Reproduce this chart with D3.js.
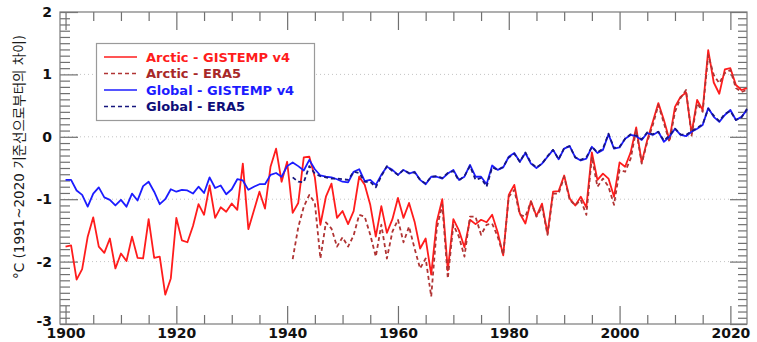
<!DOCTYPE html>
<html>
<head>
<meta charset="utf-8">
<script src="https://cdn.jsdelivr.net/npm/d3@7"></script>
<style>
  body { margin: 0; background: #fff; }
  svg { display: block; }
  .tick text { font-family: "DejaVu Sans", sans-serif; font-weight: bold; font-size: 14px; fill: #111; }
  .legend text { font-family: "DejaVu Sans", sans-serif; font-weight: bold; font-size: 13px; }
</style>
</head>
<body>
<div id="chart"></div>
<script>
// GISTEMP series start in 1900, ERA5 series start in 1941
const gisStart = 1900;
const eraStart = 1941;

const arcticGistemp = [
  -1.76, -1.74, -2.29, -2.12, -1.60, -1.29, -1.76, -1.86, -1.63, -2.11,
  -1.87, -1.99, -1.60, -1.94, -1.95, -1.32, -1.94, -1.92, -2.53, -2.27,
  -1.30, -1.66, -1.69, -1.43, -1.08, -1.25, -0.78, -1.30, -1.13, -1.20,
  -1.07, -1.17, -0.43, -1.48, -1.18, -0.88, -1.15, -0.48, -0.19, -0.72,
  -0.40, -1.22, -1.06, -0.33, -0.32, -0.65, -1.41, -0.96, -0.75, -1.30,
  -1.19, -1.40, -1.19, -0.64, -0.77, -1.09, -1.60, -1.11, -1.54, -1.32,
  -0.98, -1.30, -1.06, -1.36, -1.79, -1.63, -2.21, -1.36, -1.00, -2.14,
  -1.32, -1.50, -1.77, -1.33, -1.40, -1.33, -1.37, -1.25, -1.53, -1.90,
  -0.93, -0.77, -1.23, -1.39, -1.03, -1.27, -1.07, -1.55, -0.88, -0.87,
  -0.62, -0.99, -1.10, -0.96, -1.13, -0.25, -0.69, -0.59, -0.67, -0.96,
  -0.41, -0.48, -0.25, 0.15, -0.41, -0.05, 0.24, 0.54, 0.27, -0.05,
  0.48, 0.64, 0.71, 0.06, 0.59, 0.43, 1.39, 0.87, 0.69, 1.08,
  1.10, 0.83, 0.75, 0.78
];

const arcticEra5 = [
  -1.96, -1.45, -1.12, -0.93, -1.06, -1.95, -1.37, -1.47, -1.76,
  -1.61, -1.76, -1.58, -1.25, -1.28, -1.57, -1.92, -1.41, -1.95, -1.52,
  -1.33, -1.69, -1.44, -1.79, -2.11, -1.95, -2.56, -1.47, -1.09, -2.27,
  -1.41, -1.60, -1.92, -1.28, -1.28, -1.57, -1.41, -1.39, -1.60, -1.89,
  -0.96, -0.85, -1.25, -1.28, -1.04, -1.28, -1.12, -1.57, -0.91, -0.91,
  -0.64, -1.01, -1.10, -1.01, -1.25, -0.32, -0.80, -0.67, -0.80, -1.09,
  -0.53, -0.56, -0.35, 0.11, -0.43, -0.08, 0.19, 0.51, 0.22, -0.08,
  0.40, 0.62, 0.75, 0.02, 0.54, 0.40, 1.31, 0.99, 0.86, 1.02,
  1.07, 0.78, 0.72, 0.75
];

const globalGistemp = [
  -0.69, -0.69, -0.86, -0.93, -1.12, -0.91, -0.81, -0.97, -1.01, -1.10,
  -1.01, -1.12, -0.91, -1.02, -0.79, -0.72, -0.88, -1.08, -1.00, -0.84,
  -0.88, -0.85, -0.86, -0.91, -0.80, -0.90, -0.65, -0.82, -0.78, -0.92,
  -0.84, -0.68, -0.70, -0.85, -0.80, -0.76, -0.76, -0.61, -0.58, -0.64,
  -0.47, -0.41, -0.47, -0.54, -0.37, -0.52, -0.62, -0.64, -0.65, -0.68,
  -0.72, -0.73, -0.56, -0.52, -0.71, -0.69, -0.77, -0.61, -0.48, -0.53,
  -0.61, -0.53, -0.59, -0.56, -0.69, -0.76, -0.64, -0.64, -0.67, -0.59,
  -0.53, -0.69, -0.64, -0.45, -0.64, -0.64, -0.76, -0.46, -0.53, -0.49,
  -0.32, -0.26, -0.40, -0.26, -0.43, -0.50, -0.43, -0.32, -0.21, -0.36,
  -0.19, -0.15, -0.33, -0.38, -0.35, -0.16, -0.26, -0.21, 0.04, -0.19,
  -0.17, -0.03, 0.03, 0.01, -0.05, 0.06, 0.03, 0.08, -0.08, 0.00,
  0.13, 0.03, 0.01, 0.08, 0.13, 0.19, 0.46, 0.32, 0.24, 0.35,
  0.43, 0.27, 0.32, 0.43
];

const globalEra5 = [
  -0.65, -0.72, -0.73, -0.47, -0.59, -0.63, -0.65, -0.67, -0.67,
  -0.68, -0.69, -0.56, -0.58, -0.72, -0.72, -0.81, -0.63, -0.47, -0.55,
  -0.61, -0.53, -0.58, -0.57, -0.69, -0.75, -0.64, -0.63, -0.66, -0.58,
  -0.55, -0.70, -0.63, -0.47, -0.69, -0.66, -0.80, -0.49, -0.53, -0.48,
  -0.33, -0.27, -0.40, -0.25, -0.42, -0.49, -0.43, -0.31, -0.21, -0.36,
  -0.18, -0.15, -0.33, -0.37, -0.33, -0.16, -0.25, -0.19, 0.05, -0.18,
  -0.16, -0.03, 0.04, 0.02, -0.04, 0.07, 0.04, 0.08, -0.06, 0.02,
  0.13, 0.04, 0.03, 0.09, 0.14, 0.20, 0.45, 0.34, 0.25, 0.37,
  0.41, 0.27, 0.31, 0.45
];

const xTickLabels = [1900, 1920, 1940, 1960, 1980, 2000, 2020];
const yTickLabels = [-3, -2, -1, 0, 1, 2];
const yLabel = "°C (1991~2020 기준선으로부터의 차이)";

const seriesNames = ["Arctic - GISTEMP v4", "Arctic - ERA5", "Global - GISTEMP v4", "Global - ERA5"];
const seriesColors = ["#ff1c1c", "#b03434", "#1c1cff", "#16167e"];
const seriesTextColors = ["#ff1c1c", "#a82828", "#1c1cff", "#0e0e78"];
const seriesDashed = [false, true, false, true];

function toPoints(values, start) {
  return values.map((v, i) => ({ year: start + i, value: v }));
}

function drawChart() {
  const W = 757, H = 342;
  const margin = { top: 12, right: 10, bottom: 18, left: 60 };

  const svg = d3.select('#chart')
    .append('svg')
    .attr('width', W)
    .attr('height', H);

  const x = d3.scaleLinear().domain([1899, 2023]).range([margin.left, W - margin.right]);
  const y = d3.scaleLinear().domain([-3, 2]).range([H - margin.bottom, margin.top]);

  const x0 = x.range()[0], x1 = x.range()[1];
  const y0 = y.range()[0], y1 = y.range()[1];

  // dotted horizontal grid
  svg.append('g')
    .selectAll('line')
    .data(yTickLabels.filter(d => d > -3 && d < 2))
    .join('line')
    .attr('x1', x0 + 4).attr('x2', x1)
    .attr('y1', d => y(d)).attr('y2', d => y(d))
    .attr('stroke', '#c4c4c4')
    .attr('stroke-width', 1)
    .attr('stroke-dasharray', '1,3');

  // minor tick positions
  const xMinor = d3.range(1900, 2024, 5).filter(d => !xTickLabels.includes(d));
  const yMinor = d3.range(-30, 21).map(d => d / 10).filter(d => !Number.isInteger(d));

  const tickColor = '#707070';
  function styleAxis(g) {
    g.select('.domain').remove();
    g.selectAll('.tick line').attr('stroke', tickColor).attr('stroke-width', 1.2);
  }

  // bottom
  svg.append('g').attr('transform', `translate(0,${y0})`)
    .call(d3.axisBottom(x).tickValues(xMinor).tickSize(-9).tickFormat(''))
    .call(styleAxis);
  svg.append('g').attr('transform', `translate(0,${y0})`)
    .call(d3.axisBottom(x).tickValues(xTickLabels).tickSize(-18).tickPadding(4).tickFormat(d => String(d)))
    .call(styleAxis);
  // top
  svg.append('g').attr('transform', `translate(0,${y1})`)
    .call(d3.axisTop(x).tickValues(xMinor).tickSize(-9).tickFormat(''))
    .call(styleAxis);
  svg.append('g').attr('transform', `translate(0,${y1})`)
    .call(d3.axisTop(x).tickValues(xTickLabels).tickSize(-18).tickFormat(''))
    .call(styleAxis);
  // left
  svg.append('g').attr('transform', `translate(${x0},0)`)
    .call(d3.axisLeft(y).tickValues(yMinor).tickSize(-10).tickFormat(''))
    .call(styleAxis);
  const yAxisG = svg.append('g').attr('transform', `translate(${x0},0)`)
    .call(d3.axisLeft(y).tickValues(yTickLabels).tickSize(-18).tickPadding(8).tickFormat(d => String(d)))
    .call(styleAxis);
  // bottom-most label sits a little higher, as in the original
  yAxisG.selectAll('.tick text').filter(d => d === -3).attr('dy', '0.1em');
  // right
  svg.append('g').attr('transform', `translate(${x1},0)`)
    .call(d3.axisRight(y).tickValues(yMinor).tickSize(-9).tickFormat(''))
    .call(styleAxis);
  svg.append('g').attr('transform', `translate(${x1},0)`)
    .call(d3.axisRight(y).tickValues(yTickLabels).tickSize(-17).tickFormat(''))
    .call(styleAxis);

  // frame
  svg.append('rect')
    .attr('x', x0).attr('y', y1)
    .attr('width', x1 - x0).attr('height', y0 - y1)
    .attr('fill', 'none')
    .attr('stroke', '#7a7a7a')
    .attr('stroke-width', 1.2);

  // y label
  svg.append('text')
    .attr('transform', `translate(20,157) rotate(-90)`)
    .attr('text-anchor', 'middle')
    .attr('dominant-baseline', 'middle')
    .style('font-family', '"DejaVu Sans", "Noto Sans CJK KR", sans-serif')
    .style('font-size', '13.5px')
    .style('fill', '#1a1a1a')
    .text(yLabel);

  // lines
  const series = [
    toPoints(arcticGistemp, gisStart),
    toPoints(arcticEra5, eraStart),
    toPoints(globalGistemp, gisStart),
    toPoints(globalEra5, eraStart)
  ];

  const line = d3.line()
    .x(d => x(d.year))
    .y(d => y(d.value));

  series.forEach((data, i) => {
    svg.append('path')
      .datum(data)
      .attr('fill', 'none')
      .attr('stroke', seriesColors[i])
      .attr('stroke-width', 1.8)
      .attr('stroke-linejoin', 'round')
      .attr('stroke-dasharray', seriesDashed[i] ? '4,3' : null)
      .attr('d', line);
  });

  // legend
  const legend = svg.append('g').attr('class', 'legend');
  legend.append('rect')
    .attr('x', 96.5).attr('y', 43.5)
    .attr('width', 218).attr('height', 77)
    .attr('fill', '#fff')
    .attr('stroke', '#9a9a9a')
    .attr('stroke-width', 1.2);

  const rows = legend.selectAll('g.row')
    .data(seriesNames)
    .join('g')
    .attr('class', 'row')
    .attr('transform', (d, i) => `translate(0,${57 + i * 16.5})`);

  rows.append('line')
    .attr('x1', 104).attr('x2', 137)
    .attr('stroke', (d, i) => seriesColors[i])
    .attr('stroke-width', 1.7)
    .attr('stroke-dasharray', (d, i) => seriesDashed[i] ? '4,3' : null);

  rows.append('text')
    .attr('x', 146)
    .attr('dy', '0.36em')
    .attr('fill', (d, i) => seriesTextColors[i])
    .text(d => d);
}

document.addEventListener('DOMContentLoaded', drawChart);
</script>
</body>
</html>
